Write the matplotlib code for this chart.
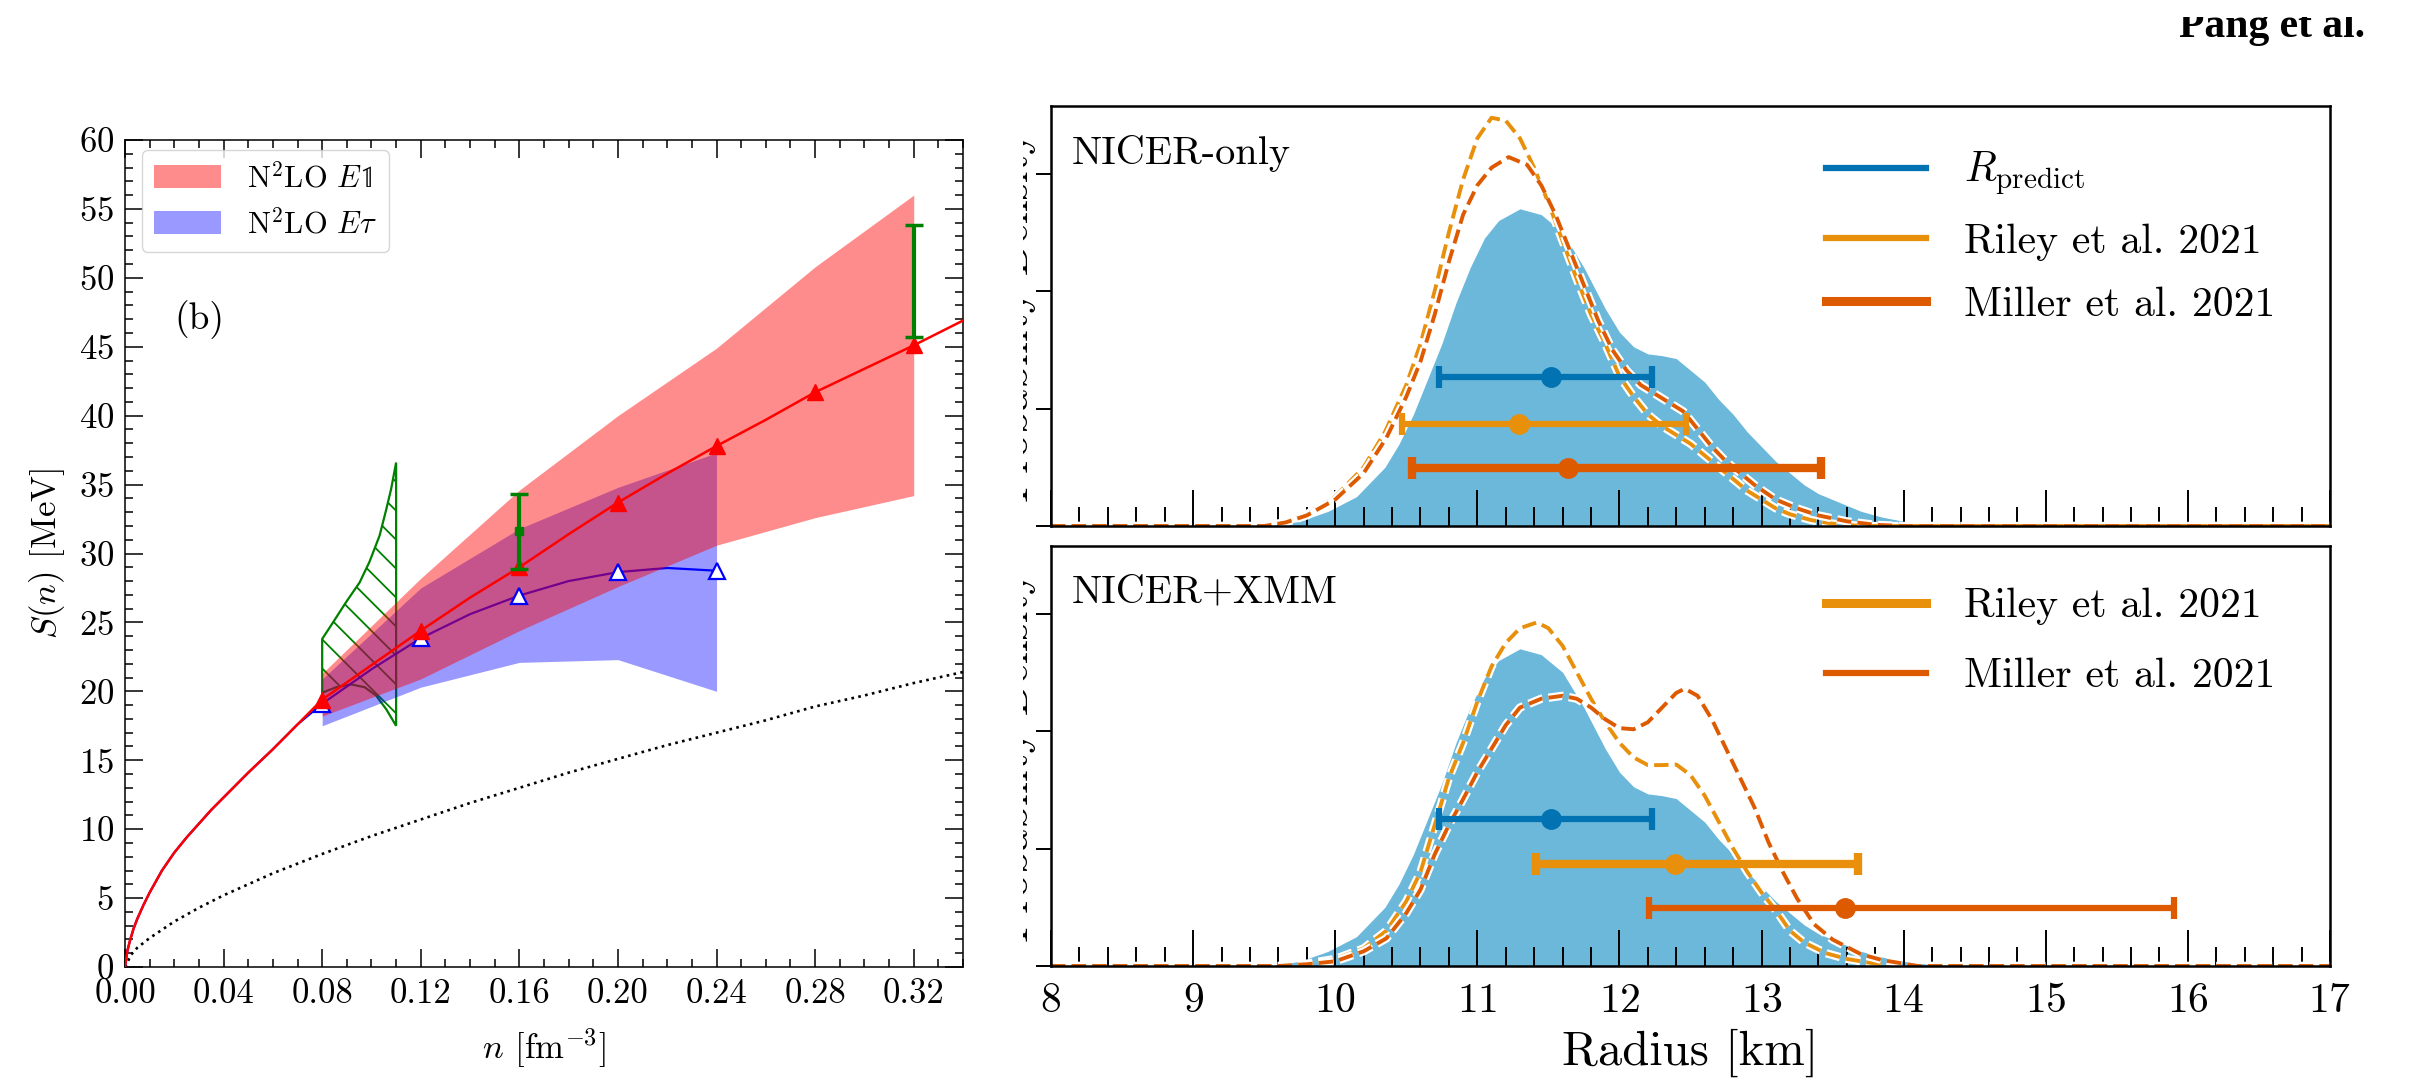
import numpy as np
import matplotlib
matplotlib.use("Agg")
import matplotlib.pyplot as plt
import matplotlib.patheffects as pe
from matplotlib.patches import Patch, Polygon
from matplotlib.lines import Line2D
from matplotlib.ticker import MultipleLocator, FormatStrFormatter
from matplotlib.transforms import Bbox, TransformedBbox

plt.rcParams['font.family'] = ['cmr10', 'DejaVu Serif']
plt.rcParams['mathtext.fontset'] = 'cm'
plt.rcParams['axes.formatter.use_mathtext'] = True

###############################################
# left panel: symmetry energy S(n)

# low density part shared by both curves
low_n = [0.0, 0.001, 0.002, 0.0035, 0.005, 0.0075, 0.01, 0.0125, 0.015, 0.02, 0.025,
         0.03, 0.035, 0.04, 0.05, 0.06, 0.07]
low_S = [0.0, 1.2, 1.9, 2.8, 3.5, 4.5, 5.4, 6.2, 7.0, 8.3, 9.4,
         10.4, 11.4, 12.3, 14.1, 15.8, 17.6]

# N2LO E1 (red)
red_n = [0.08, 0.10, 0.12, 0.14, 0.16, 0.18, 0.20, 0.22, 0.24, 0.26, 0.28, 0.30, 0.32, 0.34]
red_S = [19.4, 21.9, 24.4, 26.8, 29.0, 31.4, 33.7, 35.8, 37.8, 39.7, 41.7, 43.4, 45.1, 46.9]
red_pts_n = [0.08, 0.12, 0.16, 0.20, 0.24, 0.28, 0.32]
red_pts_S = [19.4, 24.4, 29.0, 33.7, 37.8, 41.7, 45.1]
red_band_n = [0.08, 0.12, 0.16, 0.20, 0.24, 0.28, 0.32]
red_band_hi = [21.3, 28.2, 34.6, 40.0, 44.9, 50.8, 56.0]
red_band_lo = [18.2, 20.9, 24.4, 27.6, 30.6, 32.6, 34.2]

# N2LO E tau (blue)
blue_n = [0.08, 0.10, 0.12, 0.14, 0.16, 0.18, 0.20, 0.22, 0.24]
blue_S = [19.1, 21.6, 23.85, 25.6, 26.95, 28.0, 28.65, 28.95, 28.75]
blue_pts_n = [0.08, 0.12, 0.16, 0.20, 0.24]
blue_pts_S = [19.1, 23.85, 26.95, 28.65, 28.75]
blue_band_n = [0.08, 0.12, 0.16, 0.20, 0.24]
blue_band_hi = [20.9, 27.5, 31.8, 34.8, 37.3]
blue_band_lo = [17.5, 20.3, 22.1, 22.3, 20.0]

# free Fermi gas (dotted)
ffg_n = [0.0, 0.0025, 0.005, 0.01, 0.02, 0.03, 0.04, 0.06, 0.08, 0.10, 0.12, 0.14,
         0.16, 0.18, 0.20, 0.22, 0.24, 0.26, 0.28, 0.30, 0.32, 0.34]
ffg_S = [0.0, 0.9, 1.4, 2.1, 3.3, 4.3, 5.2, 6.8, 8.2, 9.5, 10.7, 11.9,
         13.0, 14.1, 15.1, 16.1, 17.0, 17.9, 18.9, 19.7, 20.6, 21.4]

# green hatched constraint region
hatch_n = [0.08, 0.0844, 0.0898, 0.0952, 0.0992, 0.1033, 0.106, 0.108, 0.11,
           0.11, 0.108, 0.106, 0.1035, 0.1019, 0.0972, 0.0918, 0.0857, 0.08]
hatch_S = [23.8, 25.0, 26.5, 27.9, 29.4, 31.3, 33.2, 34.7, 36.6,
           17.5, 18.1, 18.7, 19.3, 19.7, 20.3, 20.5, 20.3, 19.9]

# green error bars
green_n = [0.16, 0.32]
green_lo = [28.9, 45.7]
green_hi = [34.3, 53.8]
green_mid = [31.6, 49.75]

###############################################
# right panels: radius posteriors

R_pred = [8.0, 9.55, 9.75, 9.95, 10.15, 10.35, 10.45, 10.55, 10.65, 10.75, 10.85, 10.95,
          11.05, 11.15, 11.3, 11.45, 11.6, 11.75, 11.9, 12.0, 12.1, 12.2, 12.3, 12.4,
          12.5, 12.6, 12.7, 12.8, 12.9, 13.0, 13.1, 13.2, 13.3, 13.4, 13.55, 13.7,
          13.85, 14.0, 14.2, 14.4, 17.0]
d_pred = [0.0, 0.0, 0.008, 0.025, 0.05, 0.10, 0.14, 0.19, 0.25, 0.31, 0.38, 0.44,
          0.49, 0.52, 0.54, 0.53, 0.50, 0.44, 0.37, 0.33, 0.305, 0.293, 0.29, 0.285,
          0.265, 0.245, 0.215, 0.19, 0.16, 0.135, 0.11, 0.09, 0.07, 0.055, 0.04, 0.025,
          0.015, 0.008, 0.002, 0.0, 0.0]

R_riley1 = [8.0, 9.5, 9.65, 9.8, 10.0, 10.2, 10.35, 10.5, 10.6, 10.7, 10.8, 10.9, 11.0,
            11.1, 11.2, 11.3, 11.4, 11.5, 11.6, 11.7, 11.8, 11.9, 12.0, 12.1, 12.2, 12.3,
            12.4, 12.5, 12.6, 12.7, 12.8, 12.9, 13.0, 13.1, 13.2, 13.35, 13.5, 13.7, 17.0]
d_riley1 = [0.0, 0.0, 0.006, 0.02, 0.05, 0.10, 0.16, 0.24, 0.31, 0.40, 0.50, 0.59, 0.66,
            0.695, 0.69, 0.66, 0.61, 0.55, 0.485, 0.42, 0.36, 0.31, 0.255, 0.22, 0.19, 0.17,
            0.155, 0.14, 0.12, 0.10, 0.08, 0.06, 0.045, 0.03, 0.02, 0.01, 0.004, 0.0, 0.0]

R_miller1 = [8.0, 9.5, 9.65, 9.8, 10.0, 10.2, 10.36, 10.5, 10.6, 10.7, 10.8, 10.9, 11.0,
             11.1, 11.22, 11.35, 11.45, 11.55, 11.65, 11.75, 11.85, 11.95, 12.05, 12.15,
             12.25, 12.35, 12.45, 12.55, 12.65, 12.75, 12.85, 12.95, 13.1, 13.25, 13.4,
             13.6, 13.8, 14.0, 17.0]
d_miller1 = [0.0, 0.0, 0.006, 0.018, 0.045, 0.09, 0.15, 0.22, 0.28, 0.36, 0.45, 0.53, 0.58,
             0.61, 0.628, 0.615, 0.58, 0.53, 0.47, 0.41, 0.35, 0.30, 0.265, 0.24,
             0.225, 0.21, 0.195, 0.165, 0.135, 0.11, 0.09, 0.07, 0.045, 0.03, 0.018,
             0.008, 0.002, 0.0, 0.0]

R_riley2 = [8.0, 9.6, 9.8, 10.0, 10.2, 10.36, 10.5, 10.6, 10.7, 10.8, 10.9, 11.0, 11.1,
            11.2, 11.3, 11.42, 11.5, 11.6, 11.7, 11.8, 11.9, 12.0, 12.1, 12.2, 12.3, 12.4,
            12.5, 12.6, 12.7, 12.8, 12.9, 13.0, 13.1, 13.2, 13.3, 13.45, 13.6, 13.8, 14.0, 17.0]
d_riley2 = [0.0, 0.0, 0.004, 0.012, 0.03, 0.06, 0.11, 0.16, 0.24, 0.32, 0.38, 0.45, 0.51,
            0.55, 0.575, 0.585, 0.575, 0.545, 0.50, 0.455, 0.415, 0.38, 0.355, 0.342, 0.342,
            0.343, 0.325, 0.29, 0.245, 0.20, 0.16, 0.125, 0.095, 0.06, 0.04, 0.022, 0.012,
            0.004, 0.0, 0.0]

R_miller2 = [8.0, 9.6, 9.8, 10.0, 10.2, 10.36, 10.5, 10.6, 10.7, 10.8, 10.9, 11.0, 11.1,
             11.2, 11.3, 11.45, 11.6, 11.7, 11.8, 11.9, 12.0, 12.1, 12.2, 12.3, 12.4, 12.46,
             12.55, 12.65, 12.75, 12.85, 12.95, 13.05, 13.15, 13.25, 13.37, 13.5, 13.7,
             13.85, 14.1, 17.0]
d_miller2 = [0.0, 0.0, 0.003, 0.008, 0.025, 0.047, 0.09, 0.13, 0.19, 0.24, 0.284, 0.33, 0.37,
             0.41, 0.44, 0.455, 0.46, 0.455, 0.44, 0.42, 0.405, 0.403, 0.415, 0.44, 0.465,
             0.472, 0.46, 0.42, 0.37, 0.32, 0.27, 0.21, 0.16, 0.115, 0.071, 0.045, 0.02,
             0.01, 0.0, 0.0]

# error bars: centre, lower, upper, height
eb_top = {'pred': (11.52, 10.73, 12.23, 0.253),
          'riley': (11.29, 10.47, 12.47, 0.173),
          'miller': (11.64, 10.54, 13.42, 0.099)}
eb_bot = {'pred': (11.52, 10.73, 12.23, 0.250),
          'riley': (12.39, 11.41, 13.68, 0.174),
          'miller': (13.59, 12.21, 15.90, 0.098)}

c_fill = '#6cb8da'
c_pred = '#0173b2'
c_riley = '#e8900c'
c_miller = '#de5a00'

###############################################

W, H = 2412, 1083
fig = plt.figure(figsize=(W / 100, H / 100), dpi=100)


def box(x0, y0, x1, y1):
    return [x0 / W, 1 - y1 / H, (x1 - x0) / W, (y1 - y0) / H]


ax = fig.add_axes(box(125, 140, 963, 967))
ax_t = fig.add_axes(box(1051, 106, 2330, 526))
ax_b = fig.add_axes(box(1051, 546, 2330, 966))

# ---- left panel
ax.set_xlim(0, 0.34)
ax.set_ylim(0, 60)

ax.plot(ffg_n, ffg_S, ls=':', color='black', lw=1.9, zorder=1)

region = Polygon(np.column_stack([hatch_n, hatch_S]), closed=True, fill=False,
                 edgecolor='green', lw=1.6, zorder=1.2)
ax.add_patch(region)
p0 = ax.transData.transform((0.08, 20.0))
p1 = ax.transData.transform((0.09, 21.0))
slope = -((p1[0] - p0[0]) / 0.01) / (p1[1] - p0[1])
for k in range(-12, 3):
    s0 = 33.1 + 2.1 * k
    xs = np.array([0.075, 0.115])
    ln, = ax.plot(xs, s0 + slope * (xs - 0.11), color='green', lw=1.3, zorder=1.1)
    ln.set_clip_path(region)

ax.fill_between(blue_band_n, blue_band_lo, blue_band_hi, color='blue', alpha=0.4, lw=0, zorder=2)
ax.plot(low_n + blue_n, low_S + blue_S, color='blue', lw=1.6, zorder=2.5)
ax.fill_between(red_band_n, red_band_lo, red_band_hi, color='red', alpha=0.45, lw=0, zorder=3)
ax.plot(blue_pts_n, blue_pts_S, ls='none', marker='^', ms=11, mfc='white', mec='blue',
        mew=1.6, zorder=4)
ax.plot(low_n + red_n, low_S + red_S, color='red', lw=1.8, zorder=5)
ax.plot(red_pts_n, red_pts_S, ls='none', marker='^', ms=11, color='red', zorder=5)

ax.errorbar(green_n[:1], green_mid[:1],
            yerr=[[green_mid[0] - green_lo[0]], [green_hi[0] - green_mid[0]]],
            fmt='s', ms=6, color='green', lw=3, capsize=6.5, capthick=2.5, zorder=6)
ax.errorbar(green_n[1:], green_mid[1:],
            yerr=[[green_mid[1] - green_lo[1]], [green_hi[1] - green_mid[1]]],
            fmt='none', color='green', lw=3, capsize=6.5, capthick=2.5, zorder=6)

ax.text(0.030, 47.0, '(b)', fontsize=27, ha='center', va='center')

ax.xaxis.set_major_locator(MultipleLocator(0.04))
ax.xaxis.set_minor_locator(MultipleLocator(0.01))
ax.yaxis.set_major_locator(MultipleLocator(5))
ax.yaxis.set_minor_locator(MultipleLocator(1))
ax.xaxis.set_major_formatter(FormatStrFormatter('%.2f'))
ax.tick_params(which='both', direction='in', top=True, right=True, width=1.1,
               labelsize=25, pad=8)
ax.tick_params(which='major', length=13)
ax.tick_params(which='minor', length=6)
for s in ax.spines.values():
    s.set_linewidth(1.1)
ax.set_xlabel(r'$n$ [fm$^{-3}$]', fontsize=25, labelpad=12)
ax.set_ylabel(r'$S(n)$ [MeV]', fontsize=25, labelpad=8)

leg_handles = [Patch(facecolor=(1, 0, 0, 0.45), edgecolor='none'),
               Patch(facecolor=(0, 0, 1, 0.4), edgecolor='none')]
ax.legend(leg_handles, [r'N$^2$LO $E\mathbb{1}$', r'N$^2$LO $E\tau$'],
          loc='upper left', bbox_to_anchor=(0.02, 0.988), borderaxespad=0,
          fontsize=22, handlelength=2.2, handleheight=0.8, handletextpad=0.85,
          labelspacing=0.5, framealpha=0.8)

# ---- right panels
def radius_panel(a, riley, miller, eb):
    a.fill_between(R_pred, d_pred, color=c_fill, lw=0, zorder=1)
    halo = [pe.withStroke(linewidth=6, foreground='white')]
    a.plot(riley[0], riley[1], ls='--', color=c_riley, lw=2.8, path_effects=halo, zorder=2)
    a.plot(miller[0], miller[1], ls='--', color=c_miller, lw=2.8, path_effects=halo, zorder=2)
    for key, col in (('pred', c_pred), ('riley', c_riley), ('miller', c_miller)):
        c, lo, hi, y, lw = eb[key]
        a.errorbar([c], [y], xerr=[[c - lo], [hi - c]], fmt='o', ms=14, color=col,
                   lw=lw, capsize=8, capthick=lw, zorder=3)
    a.set_xlim(8, 17)
    a.set_ylim(0, 0.715)
    a.xaxis.set_major_locator(MultipleLocator(1))
    a.xaxis.set_minor_locator(MultipleLocator(0.2))
    a.yaxis.set_major_locator(MultipleLocator(0.2))
    a.tick_params(axis='x', which='both', direction='in', width=1.4, labelsize=30, pad=12)
    a.tick_params(axis='x', which='major', length=26)
    a.tick_params(axis='x', which='minor', length=14)
    a.tick_params(axis='y', which='major', direction='out', length=11, width=1.4,
                  labelleft=False)
    for s in a.spines.values():
        s.set_linewidth(1.8)


eb_top_w = {k: v + (w,) for (k, v), w in zip(eb_top.items(), (4.5, 4.5, 6.0))}
eb_bot_w = {k: v + (w,) for (k, v), w in zip(eb_bot.items(), (4.5, 6.0, 4.5))}
radius_panel(ax_t, (R_riley1, d_riley1), (R_miller1, d_miller1), eb_top_w)
radius_panel(ax_b, (R_riley2, d_riley2), (R_miller2, d_miller2), eb_bot_w)
ax_t.tick_params(axis='x', labelbottom=False)
ax_b.set_xlabel('Radius [km]', fontsize=35, labelpad=6)

ax_t.text(0.016, 0.886, 'NICER-only', transform=ax_t.transAxes, fontsize=29, va='center')
ax_b.text(0.016, 0.89, 'NICER+XMM', transform=ax_b.transAxes, fontsize=29, va='center')

ax_t.legend([Line2D([], [], color=c_pred, lw=4.5),
             Line2D([], [], color=c_riley, lw=4.5),
             Line2D([], [], color=c_miller, lw=6.5)],
            [r'$R_{\rm predict}$', 'Riley et al. 2021', 'Miller et al. 2021'],
            loc='upper right', bbox_to_anchor=(0.97, 0.935), borderaxespad=0,
            frameon=False, fontsize=30, handlelength=2.4, handletextpad=0.9,
            labelspacing=0.62)
ax_b.legend([Line2D([], [], color=c_riley, lw=6.5),
             Line2D([], [], color=c_miller, lw=4.5)],
            ['Riley et al. 2021', 'Miller et al. 2021'],
            loc='upper right', bbox_to_anchor=(0.97, 0.94), borderaxespad=0,
            frameon=False, fontsize=30, handlelength=2.4, handletextpad=0.9,
            labelspacing=0.78)

# y labels of the right panels, cut off at the left like the source
cut = TransformedBbox(Bbox.from_extents(1023 / W, 0, 1, 1), fig.transFigure)
for yc in (1 - 316 / H, 1 - 756 / H):
    t = fig.text(1017 / W, yc, 'Probability Density', rotation=90, fontsize=31,
                 ha='center', va='center')
    t.set_clip_box(cut)

top_cut = TransformedBbox(Bbox.from_extents(0, 0, 1, 1 - 17 / H), fig.transFigure)
t = fig.text(2365 / W, 1 - 37 / H, 'Pang et al.', fontsize=30, family='Liberation Serif',
             weight='bold', va='baseline', ha='right')
t.set_clip_box(top_cut)

fig.savefig('out.png', dpi=100)
